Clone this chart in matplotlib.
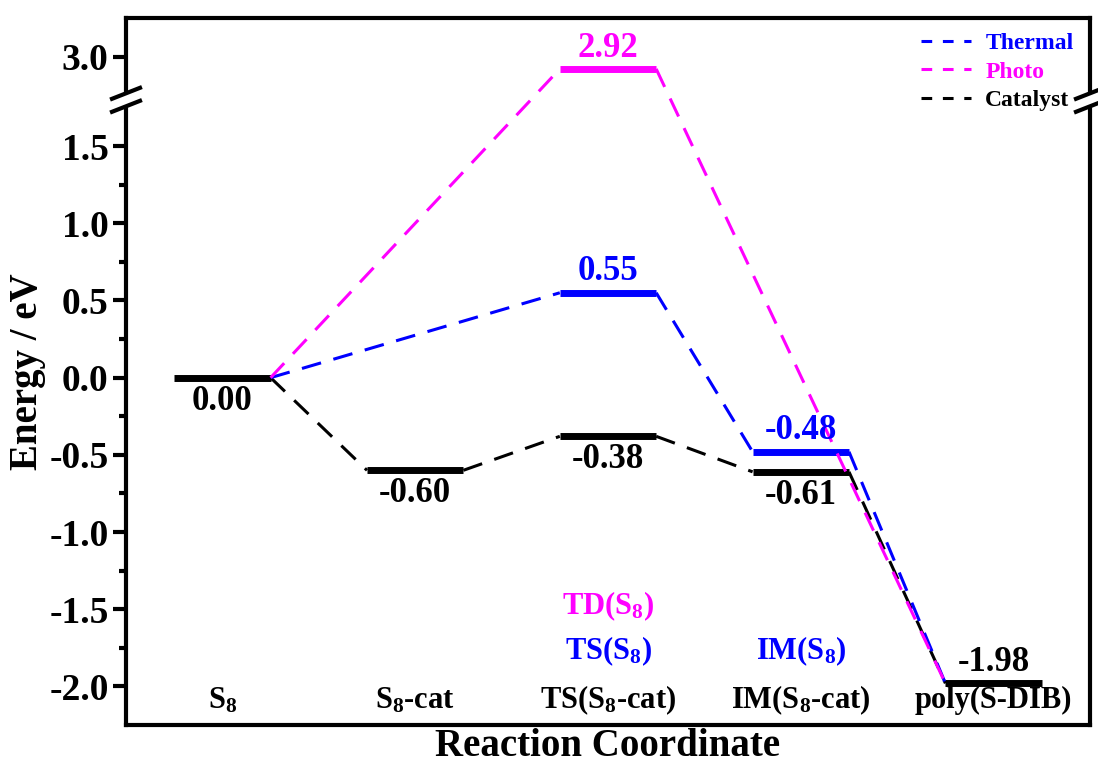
import numpy as np
import matplotlib
matplotlib.use("Agg")
import matplotlib.pyplot as plt
from matplotlib.lines import Line2D
from matplotlib.patches import Rectangle

plt.rcParams['font.family'] = ['Liberation Serif', 'DejaVu Serif']
plt.rcParams['font.weight'] = 'bold'
plt.rcParams['axes.labelweight'] = 'bold'
plt.rcParams['mathtext.fontset'] = 'custom'
plt.rcParams['mathtext.rm'] = 'Liberation Serif:bold'
plt.rcParams['mathtext.it'] = 'Liberation Serif:bold'
plt.rcParams['mathtext.bf'] = 'Liberation Serif:bold'
plt.rcParams['mathtext.default'] = 'rm'

# stages along the reaction coordinate
stages = ['S$_8$', 'S$_8$-cat', 'TS(S$_8$-cat)', 'IM(S$_8$-cat)', 'poly(S-DIB)']
stage_x = [1, 2, 3, 4, 5]

# pathways
thermal_x = [1, 3, 4, 5]
thermal_e = [0.00, 0.55, -0.48, -1.98]
photo_x = [1, 3, 5]
photo_e = [0.00, 2.92, -1.98]
cat_x = [1, 2, 3, 4, 5]
cat_e = [0.00, -0.60, -0.38, -0.61, -1.98]

# extra state names for the thermal / photo routes
extra_labels = ['TD(S$_8$)', 'TS(S$_8$)', 'IM(S$_8$)']
extra_x = [3, 3, 4]
extra_y = [-1.48, -1.77, -1.77]

# y axis is cut between these two values
brk_lo, brk_hi = 1.8, 2.72

BLUE = '#0000FF'
MAG = '#FF00FF'
hw = 0.25  # half width of a level bar


def fwd(v):
    v = np.asarray(v, dtype=float)
    return np.where(v > brk_lo, np.maximum(v - (brk_hi - brk_lo), brk_lo), v)


def inv(u):
    u = np.asarray(u, dtype=float)
    return np.where(u > brk_lo, u + (brk_hi - brk_lo), u)


fig = plt.figure(figsize=(10.98, 7.63), dpi=100)
ax = fig.add_axes([126 / 1098, 38 / 763, 964 / 1098, 707 / 763])
ax.set_yscale('function', functions=(fwd, inv))
ax.set_xlim(0.5, 5.5)
ax.set_ylim(-2.25, 3.25)

dash = (6.5, 4.2)
paths = [(cat_x, cat_e, 'black', 'Catalyst'),
         (thermal_x, thermal_e, BLUE, 'Thermal'),
         (photo_x, photo_e, MAG, 'Photo')]

# level bars
drawn = set()
for xs, es, col, name in paths:
    for x, e in zip(xs, es):
        if (x, e) in drawn:
            continue
        drawn.add((x, e))
        c = 'black' if (x in (1, 5)) else col
        ax.plot([x - hw, x + hw], [e, e], color=c, lw=5,
                solid_capstyle='butt', zorder=3)
        above = (c != 'black') or x == 5
        ax.annotate('%.2f' % e, (x, e), xytext=(0, 15 if above else -17),
                    textcoords='offset points', ha='center', va='center',
                    fontsize=25, color=c, zorder=5)

# dashed connectors
for xs, es, col, name in paths:
    for i in range(len(xs) - 1):
        ax.plot([xs[i] + hw, xs[i + 1] - hw], [es[i], es[i + 1]],
                color=col, lw=2.2, dashes=dash, zorder=4)

# state names
for x, s in zip(stage_x, stages):
    ax.text(x, -2.09, s, ha='center', va='center', fontsize=22)
for s, x, y, c in zip(extra_labels, extra_x, extra_y, [MAG, BLUE, BLUE]):
    ax.text(x, y, s, ha='center', va='center', fontsize=22, color=c)

# axes styling
for sp in ax.spines.values():
    sp.set_linewidth(3)
ax.set_xticks([])
ax.set_yticks([-2.0, -1.5, -1.0, -0.5, 0.0, 0.5, 1.0, 1.5, 3.0])
ax.set_yticklabels(['-2.0', '-1.5', '-1.0', '-0.5', '0.0', '0.5', '1.0', '1.5', '3.0'])
ax.set_yticks([-1.75, -1.25, -0.75, -0.25, 0.25, 0.75, 1.25], minor=True)
ax.tick_params(axis='y', which='major', direction='out', length=9.5, width=3,
               labelsize=27, pad=3)
ax.tick_params(axis='y', which='minor', direction='out', length=5, width=3)
ax.set_ylabel('Energy / eV', fontsize=28, labelpad=2)
ax.set_xlabel('Reaction Coordinate', fontsize=28, labelpad=2)

handles = [Line2D([], [], color=BLUE, lw=2.2, dashes=(3.5, 3.5)),
           Line2D([], [], color=MAG, lw=2.2, dashes=(3.5, 3.5)),
           Line2D([], [], color='black', lw=2.2, dashes=(3.5, 3.5))]
leg = ax.legend(handles, ['Thermal', 'Photo', 'Catalyst'], loc='upper right',
                bbox_to_anchor=(1.0, 1.003), frameon=False, fontsize=17,
                handlelength=2.1, handletextpad=0.6, labelspacing=0.3,
                borderaxespad=0.3)
for t, c in zip(leg.get_texts(), [BLUE, MAG, 'black']):
    t.set_color(c)

# break marks on both spines
to_fig = fig.transFigure.inverted()
for xa in ax.get_xlim():
    px, py = ax.transData.transform((xa, brk_lo))
    (gx0, gy0) = to_fig.transform((px - 6, py - 6))
    (gx1, gy1) = to_fig.transform((px + 6, py + 6))
    fig.add_artist(Rectangle((gx0, gy0), gx1 - gx0, gy1 - gy0, color='white',
                             transform=fig.transFigure, zorder=10))
    for off in (-6.5, 6.5):
        a = to_fig.transform((px - 14, py + off - 5.5))
        b = to_fig.transform((px + 14, py + off + 5.5))
        fig.add_artist(Line2D([a[0], b[0]], [a[1], b[1]], color='black', lw=3,
                              transform=fig.transFigure, zorder=11))

fig.savefig('out.png', dpi=100)
